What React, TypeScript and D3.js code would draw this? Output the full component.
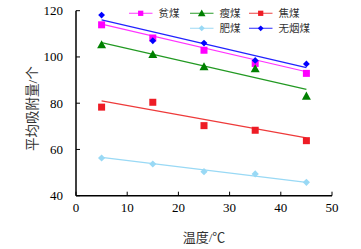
import React from "react";
import * as d3 from "d3";

const temps = [5, 15, 25, 35, 45];
const xTicks = [0, 10, 20, 30, 40, 50];
const yTicks = [40, 60, 80, 100, 120];

const pinMei = [113.9, 108.2, 102.9, 97.2, 92.9];
const shouMei = [105.3, 101.1, 95.8, 94.9, 83.1];
const jiaoMei = [78.3, 80.4, 70.3, 68.3, 63.8];
const feiMei = [56.3, 53.7, 50.4, 49.4, 45.8];
const wuyanMei = [118.1, 107.0, 106.0, 98.5, 97.0];

// fitted trend lines (value at first and last temperature)
const fitX = [5, 45];
const pinFit = [114.2, 93.6];
const shouFit = [106.2, 86.0];
const jiaoFit = [81.0, 65.0];
const feiFit = [56.6, 45.8];
const wuyanFit = [116.0, 95.4];

const seriesNames = ["贫煤", "瘦煤", "焦煤", "肥煤", "无烟煤"];

type Shape = "square" | "triangle" | "diamond" | "smallDiamond";

const series = [
  { name: seriesNames[0], values: pinMei, fit: pinFit, color: "#ff00ff", line: "#ff33ff", shape: "square" as Shape },
  { name: seriesNames[1], values: shouMei, fit: shouFit, color: "#008000", line: "#229922", shape: "triangle" as Shape },
  { name: seriesNames[2], values: jiaoMei, fit: jiaoFit, color: "#ee1c25", line: "#ee3a3a", shape: "square" as Shape },
  { name: seriesNames[3], values: feiMei, fit: feiFit, color: "#99d9f5", line: "#99d9f5", shape: "diamond" as Shape },
  { name: seriesNames[4], values: wuyanMei, fit: wuyanFit, color: "#0000ff", line: "#2222ff", shape: "smallDiamond" as Shape },
];

const legendPos = [
  [129, 13.3],
  [190, 13.3],
  [249, 13.3],
  [190, 28.3],
  [249, 28.3],
];

function Marker({ shape, x, y, color, scale = 1 }: { shape: Shape; x: number; y: number; color: string; scale?: number }) {
  if (shape === "square") {
    const s = 7 * scale;
    return <rect x={x - s / 2} y={y - s / 2} width={s} height={s} fill={color} />;
  }
  if (shape === "triangle") {
    const s = 4.5 * scale;
    return <path d={`M${x},${y - s} L${x + s},${y + s * 0.8} L${x - s},${y + s * 0.8} Z`} fill={color} />;
  }
  const s = (shape === "diamond" ? 3.6 : 3.4) * scale;
  return <path d={`M${x},${y - s} L${x + s},${y} L${x},${y + s} L${x - s},${y} Z`} fill={color} />;
}

export default function App() {
  const x = d3.scaleLinear().domain([0, 50]).range([76, 332]);
  const y = d3.scaleLinear().domain([40, 120]).range([195.7, 10.7]);
  const line = d3
    .line<number>()
    .x((_, i) => x(fitX[i]))
    .y((d) => y(d));
  const font = "'Liberation Serif', 'Times New Roman', 'Noto Sans CJK SC', serif";

  return (
    <svg
      width={361}
      height={249}
      style={{ position: "absolute", left: 0, top: 0, display: "block", background: "#fff" }}
      fontFamily={font}
    >
      {/* fitted lines */}
      {series.map((s) => (
        <path key={"f" + s.name} d={line(s.fit) || ""} fill="none" stroke={s.line} strokeWidth={1.2} />
      ))}
      {/* markers */}
      {series.map((s) =>
        s.values.map((v, i) => (
          <Marker key={s.name + i} shape={s.shape} x={x(temps[i])} y={y(v)} color={s.color} />
        ))
      )}
      {/* axes */}
      <line x1={x(0)} x2={x(50)} y1={y(40)} y2={y(40)} stroke="#000" strokeWidth={1.5} />
      <line x1={x(0)} x2={x(0)} y1={y(40)} y2={y(120)} stroke="#000" strokeWidth={1.5} />
      {xTicks.map((t) => (
        <g key={"xt" + t}>
          <line x1={x(t)} x2={x(t)} y1={y(40)} y2={y(40) - 4} stroke="#000" strokeWidth={1} />
          <text x={x(t)} y={y(40) + 16} textAnchor="middle" fontSize={13} fill="#000">
            {t}
          </text>
        </g>
      ))}
      {yTicks.map((t) => (
        <g key={"yt" + t}>
          <line x1={x(0)} x2={x(0) + 4} y1={y(t)} y2={y(t)} stroke="#000" strokeWidth={1} />
          <text x={63} y={y(t) + 4.5} textAnchor="end" fontSize={13} fill="#000">
            {t}
          </text>
        </g>
      ))}
      <text x={204} y={241.5} textAnchor="middle" fontSize={13} fill="#333">
        温度/℃
      </text>
      <text
        transform={`translate(37,108.5) rotate(-90)`}
        textAnchor="middle"
        fontSize={13.5}
        fill="#333"
      >
        平均吸附量/个
      </text>
      {/* legend */}
      {series.map((s, i) => {
        const [lx, ly] = legendPos[i];
        return (
          <g key={"lg" + s.name}>
            <line x1={lx} x2={lx + 23.5} y1={ly} y2={ly} stroke={s.line} strokeWidth={1.2} opacity={0.8} />
            <Marker shape={s.shape} x={lx + 11.7} y={ly} color={s.color} scale={s.shape === "square" ? 0.75 : 0.85} />
            <text x={lx + 29.5} y={ly + 3.8} fontSize={10.5} fill="#333">
              {s.name}
            </text>
          </g>
        );
      })}
    </svg>
  );
}
